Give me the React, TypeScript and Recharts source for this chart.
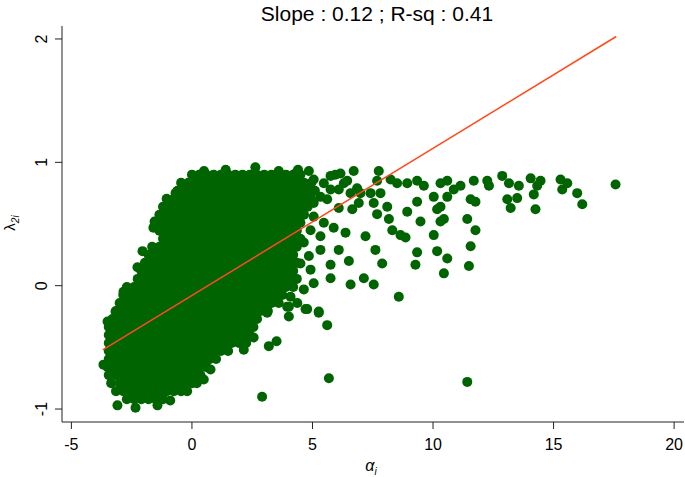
import React from "react";
import { ScatterChart, Scatter, XAxis, YAxis } from "recharts";

// ---- Data ----
const titleText = "Slope : 0.12 ; R-sq : 0.41";
const xTicks = [-5, 0, 5, 10, 15, 20];
const yTicks = [-1, 0, 1, 2];

// Dense core of the cloud: [lambda_2i, alpha_i values at that level]
const denseRows: [number, number[]][] = [
  [0.9, [0, 0.3, 0.6, 0.9, 1.2, 1.5, 1.8, 2.1, 2.4, 2.7, 3, 3.3, 3.6, 3.9, 4.2, 4.5]],
  [0.835, [-0.45, -0.15, 0.15, 0.45, 0.75, 1.05, 1.35, 1.65, 1.95, 2.25, 2.55, 2.85, 3.15, 3.45, 3.75, 4.05, 4.35, 4.65, 4.95]],
  [0.77, [-0.6, -0.3, 0, 0.3, 0.6, 0.9, 1.2, 1.5, 1.8, 2.1, 2.4, 2.7, 3, 3.3, 3.6, 3.9, 4.2, 4.5, 4.8, 5.1]],
  [0.705, [-1.05, -0.75, -0.45, -0.15, 0.15, 0.45, 0.75, 1.05, 1.35, 1.65, 1.95, 2.25, 2.55, 2.85, 3.15, 3.45, 3.75, 4.05, 4.35, 4.65, 4.95]],
  [0.64, [-1.2, -0.9, -0.6, -0.3, 0, 0.3, 0.6, 0.9, 1.2, 1.5, 1.8, 2.1, 2.4, 2.7, 3, 3.3, 3.6, 3.9, 4.2, 4.5, 4.8]],
  [0.575, [-1.35, -1.05, -0.75, -0.45, -0.15, 0.15, 0.45, 0.75, 1.05, 1.35, 1.65, 1.95, 2.25, 2.55, 2.85, 3.15, 3.45, 3.75, 4.05, 4.35, 4.65]],
  [0.51, [-1.5, -1.2, -0.9, -0.6, -0.3, 0, 0.3, 0.6, 0.9, 1.2, 1.5, 1.8, 2.1, 2.4, 2.7, 3, 3.3, 3.6, 3.9, 4.2, 4.5]],
  [0.445, [-1.35, -1.05, -0.75, -0.45, -0.15, 0.15, 0.45, 0.75, 1.05, 1.35, 1.65, 1.95, 2.25, 2.55, 2.85, 3.15, 3.45, 3.75, 4.05, 4.35]],
  [0.38, [-1.2, -0.9, -0.6, -0.3, 0, 0.3, 0.6, 0.9, 1.2, 1.5, 1.8, 2.1, 2.4, 2.7, 3, 3.3, 3.6, 3.9, 4.2, 4.5]],
  [0.315, [-1.65, -1.35, -1.05, -0.75, -0.45, -0.15, 0.15, 0.45, 0.75, 1.05, 1.35, 1.65, 1.95, 2.25, 2.55, 2.85, 3.15, 3.45, 3.75, 4.05, 4.35]],
  [0.25, [-1.8, -1.5, -1.2, -0.9, -0.6, -0.3, 0, 0.3, 0.6, 0.9, 1.2, 1.5, 1.8, 2.1, 2.4, 2.7, 3, 3.3, 3.6, 3.9, 4.2]],
  [0.185, [-1.95, -1.65, -1.35, -1.05, -0.75, -0.45, -0.15, 0.15, 0.45, 0.75, 1.05, 1.35, 1.65, 1.95, 2.25, 2.55, 2.85, 3.15, 3.45, 3.75, 4.05, 4.35]],
  [0.12, [-2.1, -1.8, -1.5, -1.2, -0.9, -0.6, -0.3, 0, 0.3, 0.6, 0.9, 1.2, 1.5, 1.8, 2.1, 2.4, 2.7, 3, 3.3, 3.6, 3.9, 4.2]],
  [0.055, [-2.25, -1.95, -1.65, -1.35, -1.05, -0.75, -0.45, -0.15, 0.15, 0.45, 0.75, 1.05, 1.35, 1.65, 1.95, 2.25, 2.55, 2.85, 3.15, 3.45, 3.75, 4.05, 4.35]],
  [-0.01, [-2.7, -2.4, -2.1, -1.8, -1.5, -1.2, -0.9, -0.6, -0.3, 0, 0.3, 0.6, 0.9, 1.2, 1.5, 1.8, 2.1, 2.4, 2.7, 3, 3.3, 3.6, 3.9, 4.2]],
  [-0.075, [-2.85, -2.55, -2.25, -1.95, -1.65, -1.35, -1.05, -0.75, -0.45, -0.15, 0.15, 0.45, 0.75, 1.05, 1.35, 1.65, 1.95, 2.25, 2.55, 2.85, 3.15, 3.45, 3.75]],
  [-0.14, [-3, -2.7, -2.4, -2.1, -1.8, -1.5, -1.2, -0.9, -0.6, -0.3, 0, 0.3, 0.6, 0.9, 1.2, 1.5, 1.8, 2.1, 2.4, 2.7, 3, 3.3, 3.6]],
  [-0.205, [-3.15, -2.85, -2.55, -2.25, -1.95, -1.65, -1.35, -1.05, -0.75, -0.45, -0.15, 0.15, 0.45, 0.75, 1.05, 1.35, 1.65, 1.95, 2.25, 2.55, 2.85, 3.15]],
  [-0.27, [-3.3, -3, -2.7, -2.4, -2.1, -1.8, -1.5, -1.2, -0.9, -0.6, -0.3, 0, 0.3, 0.6, 0.9, 1.2, 1.5, 1.8, 2.1, 2.4, 2.7]],
  [-0.335, [-3.45, -3.15, -2.85, -2.55, -2.25, -1.95, -1.65, -1.35, -1.05, -0.75, -0.45, -0.15, 0.15, 0.45, 0.75, 1.05, 1.35, 1.65, 1.95, 2.25, 2.55]],
  [-0.4, [-3.45, -3.3, -3, -2.7, -2.4, -2.1, -1.8, -1.5, -1.2, -0.9, -0.6, -0.3, 0, 0.3, 0.6, 0.9, 1.2, 1.5, 1.8, 2.1, 2.4]],
  [-0.465, [-3.45, -3.15, -2.85, -2.55, -2.25, -1.95, -1.65, -1.35, -1.05, -0.75, -0.45, -0.15, 0.15, 0.45, 0.75, 1.05, 1.35, 1.65, 1.95, 2.25]],
  [-0.53, [-3.45, -3.3, -3, -2.7, -2.4, -2.1, -1.8, -1.5, -1.2, -0.9, -0.6, -0.3, 0, 0.3, 0.6, 0.9, 1.2, 1.5]],
  [-0.595, [-3.45, -3.15, -2.85, -2.55, -2.25, -1.95, -1.65, -1.35, -1.05, -0.75, -0.45, -0.15, 0.15, 0.45, 0.75, 1.0]],
  [-0.66, [-3.5, -3.3, -3, -2.7, -2.4, -2.1, -1.8, -1.5, -1.2, -0.9, -0.6, -0.3, 0, 0.3, 0.6]],
  [-0.725, [-3.45, -3.15, -2.85, -2.55, -2.25, -1.95, -1.65, -1.35, -1.05, -0.75, -0.45, -0.15, 0.15, 0.35]],
  [-0.79, [-3.35, -3, -2.7, -2.4, -2.1, -1.8, -1.5, -1.2, -0.9, -0.6, -0.3, 0, 0.2]],
  [-0.855, [-3.15, -2.85, -2.55, -2.25, -1.95, -1.65, -1.35, -1.05, -0.75, -0.45, -0.2]],
  [-0.92, [-2.7, -2.4, -2.1, -1.8, -1.5, -1.2]],
];

// Individual points around the edge of the cloud and outliers: [alpha_i, lambda_2i]
const edgePoints: [number, number][] = [
  [-3.09, -0.97], [-2.34, -0.99], [-1.43, -0.97], [-0.9, -0.93],
  [-3.5, -0.29], [-3.67, -0.64], [-3.17, -0.21], [-2.84, -0.05], [-2.05, 0.28],
  [-0.68, 0.75], [-2.26, 0.15], [-1.6, 0.47], [-1.55, 0.52],
  [0.5, 0.93], [1.4, 0.94], [2.63, 0.96], [3.6, 0.93], [4.4, 0.94],
];

const scatterPoints: [number, number][] = [
  [4.29, 0.91], [4.85, 0.93], [5.75, 0.89], [6.16, 0.91], [6.44, 0.85], [6.71, 0.93], [7.75, 0.93],
  [7.68, 0.85], [8.24, 0.86], [8.51, 0.83], [8.93, 0.83], [9.34, 0.85], [9.62, 0.81], [10.03, 0.72],
  [10.31, 0.83], [10.59, 0.85], [10.86, 0.78], [11.14, 0.81], [10.59, 0.72], [10.31, 0.64], [10.17, 0.62],
  [10.45, 0.54], [10.31, 0.52], [11.69, 0.85], [11.56, 0.7], [11.76, 0.68], [11.42, 0.54], [11.76, 0.45],
  [11.56, 0.32], [11.49, 0.16], [12.25, 0.85], [12.32, 0.81], [12.87, 0.89], [13.15, 0.83], [13.56, 0.81],
  [13.08, 0.7], [13.22, 0.63], [13.49, 0.71], [14.05, 0.87], [14.46, 0.85], [14.32, 0.81], [14.18, 0.74],
  [14.25, 0.62], [15.29, 0.86], [15.57, 0.83], [15.36, 0.78], [15.98, 0.75], [16.19, 0.66], [17.57, 0.82],
  [5.61, 0.7], [6.09, 0.63], [6.65, 0.62], [6.92, 0.67], [7.54, 0.67], [7.68, 0.58], [8.17, 0.54],
  [8.1, 0.64], [7.82, 0.75], [7.41, 0.75], [6.99, 0.75], [8.93, 0.6], [9.48, 0.52], [9.34, 0.68],
  [8.31, 0.45], [8.65, 0.41], [8.86, 0.39], [7.2, 0.4], [6.37, 0.43], [6.09, 0.29], [7.61, 0.29],
  [7.89, 0.18], [6.51, 0.2], [5.75, 0.17], [9.34, 0.27], [9.27, 0.17], [10.03, 0.41], [10.17, 0.28],
  [10.59, 0.22], [10.45, 0.1], [7.13, 0.06], [7.54, 0.01], [6.58, 0.01], [5.75, 0.06], [5.05, 0.02],
  [5.26, -0.22], [5.61, -0.32], [4.78, -0.19], [8.58, -0.09], [4.02, -0.25], [5.68, -0.75], [11.42, -0.78],
  [5.05, 0.86], [5.47, 0.83], [5.95, 0.9], [6.3, 0.83], [6.09, 0.78], [5.75, 0.78], [5.33, 0.72],
  [5.05, 0.67], [6.58, 0.75], [6.85, 0.79], [5.05, 0.56], [5.47, 0.51], [5.88, 0.47], [5.33, 0.4],
  [4.92, 0.45], [4.64, 0.35], [5.33, 0.29], [4.85, 0.24], [4.5, 0.18], [4.92, 0.13], [4.22, 0.05],
  [4.64, -0.03], [4.09, -0.09], [4.37, -0.14], [3.95, -0.17],
  [3.19, -0.49], [3.51, -0.45], [2.56, -0.42], [2.15, -0.52], [1.6, -0.45], [4.71, -0.19], [5.26, -0.21],
  [2.91, -0.9], [4.02, -0.17], [3.53, -0.09], [3.12, -0.22], [2.5, -0.19], [1.73, -0.36], [1.18, -0.45],
  [0.63, -0.6], [0.77, -0.68], [0.49, -0.76],
];

// Fitted regression line end points
const fitLine: [number, number][] = [
  [-3.7, -0.52],
  [17.6, 2.02],
];

// ---- Build tables ----
const cloudData = [
  ...denseRows.flatMap(([y, xs]) => xs.map((x) => ({ x, y }))),
  ...edgePoints.map(([x, y]) => ({ x, y })),
  ...scatterPoints.map(([x, y]) => ({ x, y })),
];
const fitData = fitLine.map(([x, y]) => ({ x, y }));

const FONT = "'Liberation Sans', Arial, Helvetica, sans-serif";
const DOT = "#006400";
const FIT = "#FF4A1C";
const AXIS = "#222";

const Dot = (props: any) => <circle cx={props.cx} cy={props.cy} r={5} fill={DOT} />;
const NoDot = () => <g />;

const YTick = (props: any) => {
  const { y, payload } = props;
  const bx = 47;
  return (
    <text
      x={bx}
      y={y}
      transform={`rotate(-90, ${bx}, ${y})`}
      textAnchor="middle"
      fontSize={16}
      fill="#000"
      fontFamily={FONT}
    >
      {payload.value}
    </text>
  );
};

export default function App() {
  return (
    <div style={{ position: "absolute", left: 0, top: 0, width: 685, height: 477, background: "#fff", fontFamily: FONT }}>
      <ScatterChart width={685} height={477} margin={{ top: 26, right: 1, bottom: 0, left: 0 }}>
        <XAxis
          type="number"
          dataKey="x"
          domain={[-5.39, 20.41]}
          ticks={xTicks}
          height={55}
          tickSize={7}
          tickMargin={10}
          stroke={AXIS}
          tick={{ fontSize: 16, fill: "#000", fontFamily: FONT }}
          allowDataOverflow
        />
        <YAxis
          type="number"
          dataKey="y"
          domain={[-1.105, 2.105]}
          ticks={yTicks}
          width={62}
          tickSize={7}
          stroke={AXIS}
          tick={<YTick />}
          allowDataOverflow
        />
        <Scatter data={cloudData} shape={Dot} isAnimationActive={false} />
        <Scatter
          data={fitData}
          shape={NoDot}
          line={{ stroke: FIT, strokeWidth: 1.5 }}
          isAnimationActive={false}
        />
      </ScatterChart>
      <svg width={685} height={477} style={{ position: "absolute", left: 0, top: 0, pointerEvents: "none" }}>
        <text x={377} y={21} textAnchor="middle" fontSize={21} fill="#000" fontFamily={FONT}>
          {titleText}
        </text>
        <text transform="translate(15,223) rotate(-90)" textAnchor="middle" fontSize={15} fill="#000" fontFamily={FONT}>
          λ
          <tspan fontSize={10} dy={4} fontStyle="italic">2i</tspan>
        </text>
        <text x={371} y={471} textAnchor="middle" fontSize={16} fill="#000" fontFamily={FONT} fontStyle="italic">
          α
          <tspan fontSize={10} dy={4}>i</tspan>
        </text>
      </svg>
    </div>
  );
}
